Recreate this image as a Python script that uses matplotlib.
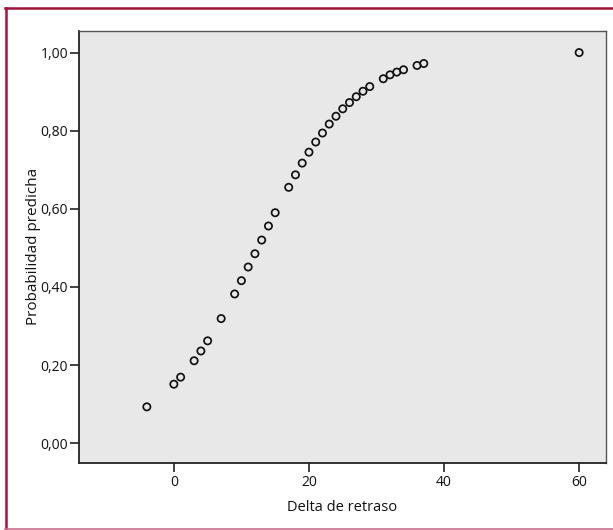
import matplotlib
matplotlib.use("Agg")
import matplotlib.pyplot as plt
from matplotlib.lines import Line2D

# ── data ──────────────────────────────────────────────────────────────────────
delta = [-4, 0, 1, 3, 4, 5, 7, 9, 10, 11, 12, 13, 14, 15, 17, 18, 19, 20,
         21, 22, 23, 24, 25, 26, 27, 28, 29, 31, 32, 33, 34, 36, 37, 60]
prob = [0.093, 0.151, 0.169, 0.211, 0.236, 0.262, 0.319, 0.382, 0.416,
        0.451, 0.485, 0.520, 0.556, 0.590, 0.655, 0.687, 0.717, 0.745,
        0.771, 0.794, 0.817, 0.837, 0.856, 0.872, 0.887, 0.901, 0.913,
        0.933, 0.943, 0.950, 0.956, 0.967, 0.972, 1.000]

x_ticks = [0, 20, 40, 60]
y_ticks = [0.0, 0.2, 0.4, 0.6, 0.8, 1.0]
y_labels = ["0,00", "0,20", "0,40", "0,60", "0,80", "1,00"]

plt.rcParams["font.family"] = ["Open Sans", "DejaVu Sans"]

C_FRAME = "#a3123a"
C_BG = "#e8e8e8"
C_AX = "#222222"
C_TXT = "#111111"

fig = plt.figure(figsize=(6.13, 5.30), dpi=100, facecolor="white")
ax = fig.add_axes([79.3 / 613, 1 - 462.7 / 530,
                   (605.5 - 79.3) / 613, (462.7 - 30.7) / 530])
ax.set_facecolor(C_BG)

ax.scatter(delta, prob, s=27, facecolors="none", edgecolors="#111111",
           linewidths=1.25, zorder=3)

ax.set_xlim(-14, 63.9)
ax.set_ylim(-0.05, 1.056)
ax.set_xticks(x_ticks)
ax.set_xticklabels([str(t) for t in x_ticks])
ax.set_yticks(y_ticks)
ax.set_yticklabels(y_labels)

ax.tick_params(direction="out", length=6.5, width=1.2, colors=C_AX,
               labelcolor=C_TXT, labelsize=10, pad=1.5)
ax.tick_params(axis="x", pad=2.5)
for side, sp in ax.spines.items():
    sp.set_color(C_AX if side in ("left", "bottom") else "#555555")
    sp.set_linewidth(1.3 if side in ("left", "bottom") else 1.0)

ax.set_xlabel("Delta de retraso", fontsize=10.5, color=C_TXT, labelpad=7)
ax.set_ylabel("Probabilidad predicha", fontsize=11, color=C_TXT,
              labelpad=0)

# ── crimson page frame (left, top, bottom) ───────────────────────────────────
fig.add_artist(Line2D([5.7 / 613, 5.7 / 613], [0, 1 - 8.3 / 530],
                      transform=fig.transFigure, color=C_FRAME, linewidth=1.8))
fig.add_artist(Line2D([5.0 / 613, 1], [1 - 8.3 / 530, 1 - 8.3 / 530],
                      transform=fig.transFigure, color=C_FRAME, linewidth=1.8))
fig.add_artist(Line2D([5.0 / 613, 1], [1 - 529 / 530, 1 - 529 / 530],
                      transform=fig.transFigure, color="#c9708f", linewidth=1.2))

fig.savefig("out.png", dpi=100)
